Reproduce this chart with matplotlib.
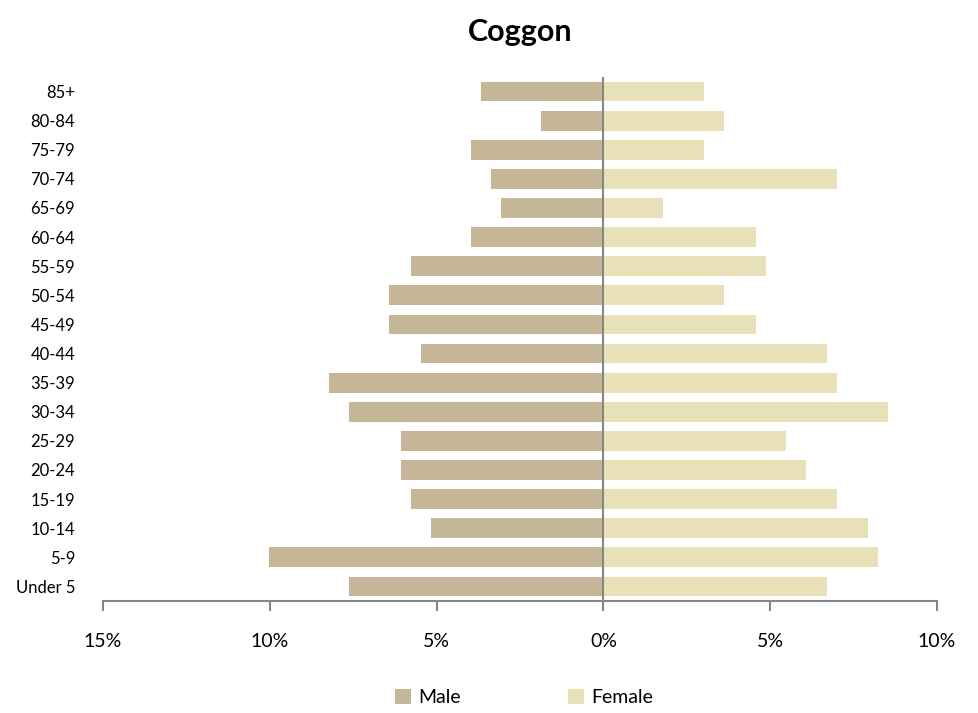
import matplotlib.pyplot as plt

grupos = ['Under 5', '5-9', '10-14', '15-19', '20-24', '25-29', '30-34', '35-39',
          '40-44', '45-49', '50-54', '55-59', '60-64', '65-69', '70-74', '75-79',
          '80-84', '85+']
hombres = [7.63, 10.03, 5.17, 5.77, 6.07, 6.07, 7.63, 8.23, 5.47, 6.43, 6.43,
           5.77, 3.96, 3.06, 3.36, 3.96, 1.86, 3.66]
mujeres = [6.7, 8.23, 7.93, 7.0, 6.07, 5.47, 8.53, 7.0, 6.7, 4.56, 3.63, 4.86,
           4.56, 1.8, 7.0, 3.03, 3.63, 3.03]
ticks_x = [-15, -10, -5, 0, 5, 10]

plt.rcParams['font.family'] = ['Lato', 'DejaVu Sans']

fig = plt.figure(figsize=(9.79, 7.13), dpi=100)
ax = fig.add_axes([103 / 979, 1 - 601 / 713, 834 / 979, 524 / 713])

pos = list(range(len(grupos)))
ax.barh(pos, [-h for h in hombres], height=0.68, color='#C4B696', label='Male')
ax.barh(pos, mujeres, height=0.68, color='#E8E1B7', label='Female')

ax.set_xlim(-15, 10)
ax.set_ylim(-0.5, len(grupos) - 0.5)
ax.set_yticks(pos)
ax.set_yticklabels(grupos, fontsize=12)
ax.set_xticks(ticks_x)
ax.set_xticklabels([f'{abs(t)}%' for t in ticks_x], fontsize=14)

for lado in ['top', 'right', 'left']:
    ax.spines[lado].set_visible(False)
ax.spines['bottom'].set_color('#868686')
ax.spines['bottom'].set_linewidth(1.5)
ax.axvline(0, color='#868686', linewidth=1.5)
ax.tick_params(axis='y', length=0, pad=20)
ax.tick_params(axis='x', length=7, width=1.5, color='#868686', pad=16)

ax.set_title('Coggon', fontsize=22, fontweight='bold', pad=26)

ax.legend(loc='upper center', bbox_to_anchor=(0.505, -0.135), ncol=2, frameon=False,
          fontsize=14, handlelength=0.8, handleheight=0.8, columnspacing=5.5,
          handletextpad=0.4)

plt.savefig('out.png')
